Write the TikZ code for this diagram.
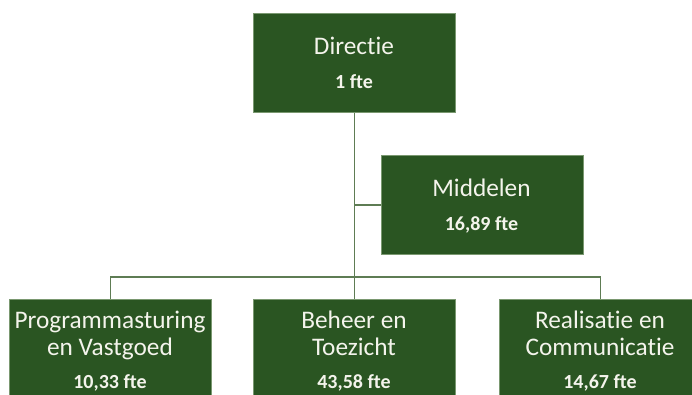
\documentclass[tikz,border=0pt]{standalone}
\usepackage{fontspec}
\setmainfont{Carlito}[Ligatures={NoCommon}]
\definecolor{boxfill}{HTML}{2A5522}
\definecolor{boxline}{HTML}{7A9870}
\definecolor{conn}{HTML}{5E7C54}
\definecolor{txt}{HTML}{F4F4EC}
\tikzset{
  orgbox/.style={draw=boxline, line width=0.8pt, fill=boxfill, minimum width=202pt, minimum height=99pt, inner sep=0pt, anchor=north west},
  title/.style={text=txt, font=\fontsize{25.3}{27}\selectfont, anchor=base, inner sep=0pt},
  fte/.style={text=txt, font=\fontsize{20}{22}\selectfont\bfseries, anchor=base, inner sep=0pt},
  connector/.style={draw=conn, line width=1.3pt}
}
\begin{document}
\begin{tikzpicture}[x=1pt,y=-1pt]
\useasboundingbox (0,0) rectangle (692,394);
% boxes
\node[orgbox] (dir) at (253,13) {};
\node[orgbox] (mid) at (381,155) {};
\node[orgbox] (pv) at (9,299) {};
\node[orgbox] (bt) at (253,299) {};
\node[orgbox] (rc) at (499,299) {};
% connectors
\coordinate (bus) at (354,277);
\draw[connector] (dir.south) -- (bt.north);
\draw[connector] (mid.west) -- (mid.west -| dir.south);
\draw[connector] (pv.north) |- (bus) -| (rc.north);
% texts
\node[title] (t1) at (354,54) {Directie};
\node[fte] (f1) at (354,88) {1 fte};
\node[title] (t2) at (481.5,196) {Middelen};
\node[fte] (f2) at (481.5,230) {16,89 fte};
\node[title] (t3a) at (110,328) {Programmasturing};
\node[title] (t3b) at (110,355) {en Vastgoed};
\node[fte] (f3) at (110,388) {10,33 fte};
\node[title] (t4a) at (354,328) {Beheer en};
\node[title] (t4b) at (354,355) {Toezicht};
\node[fte] (f4) at (354,388) {43,58 fte};
\node[title] (t5a) at (600,328) {Realisatie en};
\node[title] (t5b) at (600,355) {Communicatie};
\node[fte] (f5) at (600,388) {14,67 fte};
\end{tikzpicture}
\end{document}
